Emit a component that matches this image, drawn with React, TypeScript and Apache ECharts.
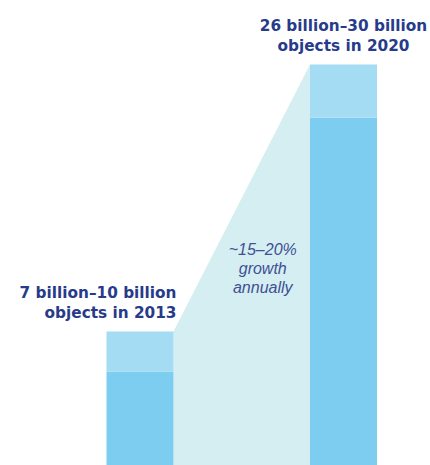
import React, { useEffect, useRef } from "react";
import * as echarts from "echarts";

const CATEGORIES = ["2013", "2020"];
const LOW_VALUES = [7, 26];
const HIGH_VALUES = [10, 30];
const RANGE_LABELS = ["7 billion–10 billion", "26 billion–30 billion"];
const GROWTH_TEXT = ["~15–20%", "growth", "annually"];

const BAR_WIDTH = 67;
const NAVY = "#263b8a";
const DARK_BLUE = "#7ccdf0";
const LIGHT_BLUE = "#a4dcf4";
const TEAL = "#d5eef1";
const BOLD_FONT = "'DejaVu Sans', sans-serif";
const FONT = "'Liberation Sans', Arial, sans-serif";

export default function App() {
  const ref = useRef<HTMLDivElement>(null);
  useEffect(() => {
    if (!ref.current) return;
    const chart = echarts.init(ref.current, undefined, { renderer: "svg" });
    const rangeValues = HIGH_VALUES.map((h, i) => h - LOW_VALUES[i]);
    chart.setOption({
      animation: false,
      backgroundColor: "#ffffff",
      grid: { left: 140, width: 203.5, top: 11, height: 459 },
      xAxis: {
        type: "category",
        data: CATEGORIES,
        boundaryGap: false,
        show: false,
      },
      yAxis: { type: "value", min: 0, max: 34, show: false },
      series: [
        {
          type: "custom",
          z: 1,
          silent: true,
          clip: false,
          data: [[0, HIGH_VALUES[0], 1, HIGH_VALUES[1]]],
          renderItem: (params: any, api: any) => {
            const p0 = api.coord([api.value(0), api.value(1)]);
            const p1 = api.coord([api.value(2), api.value(3)]);
            const base = api.coord([0, 0])[1];
            const half = BAR_WIDTH / 2;
            const lx = p0[0] + half;
            const rx = p1[0] - half;
            const ty = api.coord([0, 14.7])[1];
            return {
              type: "group",
              children: [
                {
                  type: "polygon",
                  shape: {
                    points: [
                      [lx, p0[1]],
                      [rx, p1[1]],
                      [rx, base],
                      [lx, base],
                    ],
                  },
                  style: { fill: TEAL },
                },
                {
                  type: "text",
                  x: (lx + rx) / 2 + 21,
                  y: ty,
                  style: {
                    text: GROWTH_TEXT.join("\n"),
                    fill: "#3f5094",
                    fontFamily: FONT,
                    fontStyle: "italic",
                    fontSize: 16,
                    lineHeight: 19,
                    align: "center",
                    verticalAlign: "middle",
                  },
                },
              ],
            };
          },
        },
        {
          type: "bar",
          stack: "s",
          z: 2,
          barWidth: BAR_WIDTH,
          data: LOW_VALUES,
          itemStyle: { color: DARK_BLUE },
        },
        {
          type: "bar",
          stack: "s",
          z: 2,
          barWidth: BAR_WIDTH,
          data: rangeValues.map((v, i) => ({
            value: v,
            label: {
              show: true,
              formatter: `${RANGE_LABELS[i]}\nobjects in ${CATEGORIES[i]}`,
              position: i === 0 ? [BAR_WIDTH + 3, -8] : [BAR_WIDTH / 2, -8],
              align: i === 0 ? "right" : "center",
              verticalAlign: "bottom",
              color: NAVY,
              fontFamily: BOLD_FONT,
              fontWeight: "bold",
              fontSize: 15.3,
              lineHeight: 20,
            },
          })),
          itemStyle: { color: LIGHT_BLUE },
        },
      ],
    });
    return () => chart.dispose();
  }, []);
  return (
    <div
      ref={ref}
      style={{ position: "absolute", left: 0, top: 0, width: 430, height: 465 }}
    />
  );
}
